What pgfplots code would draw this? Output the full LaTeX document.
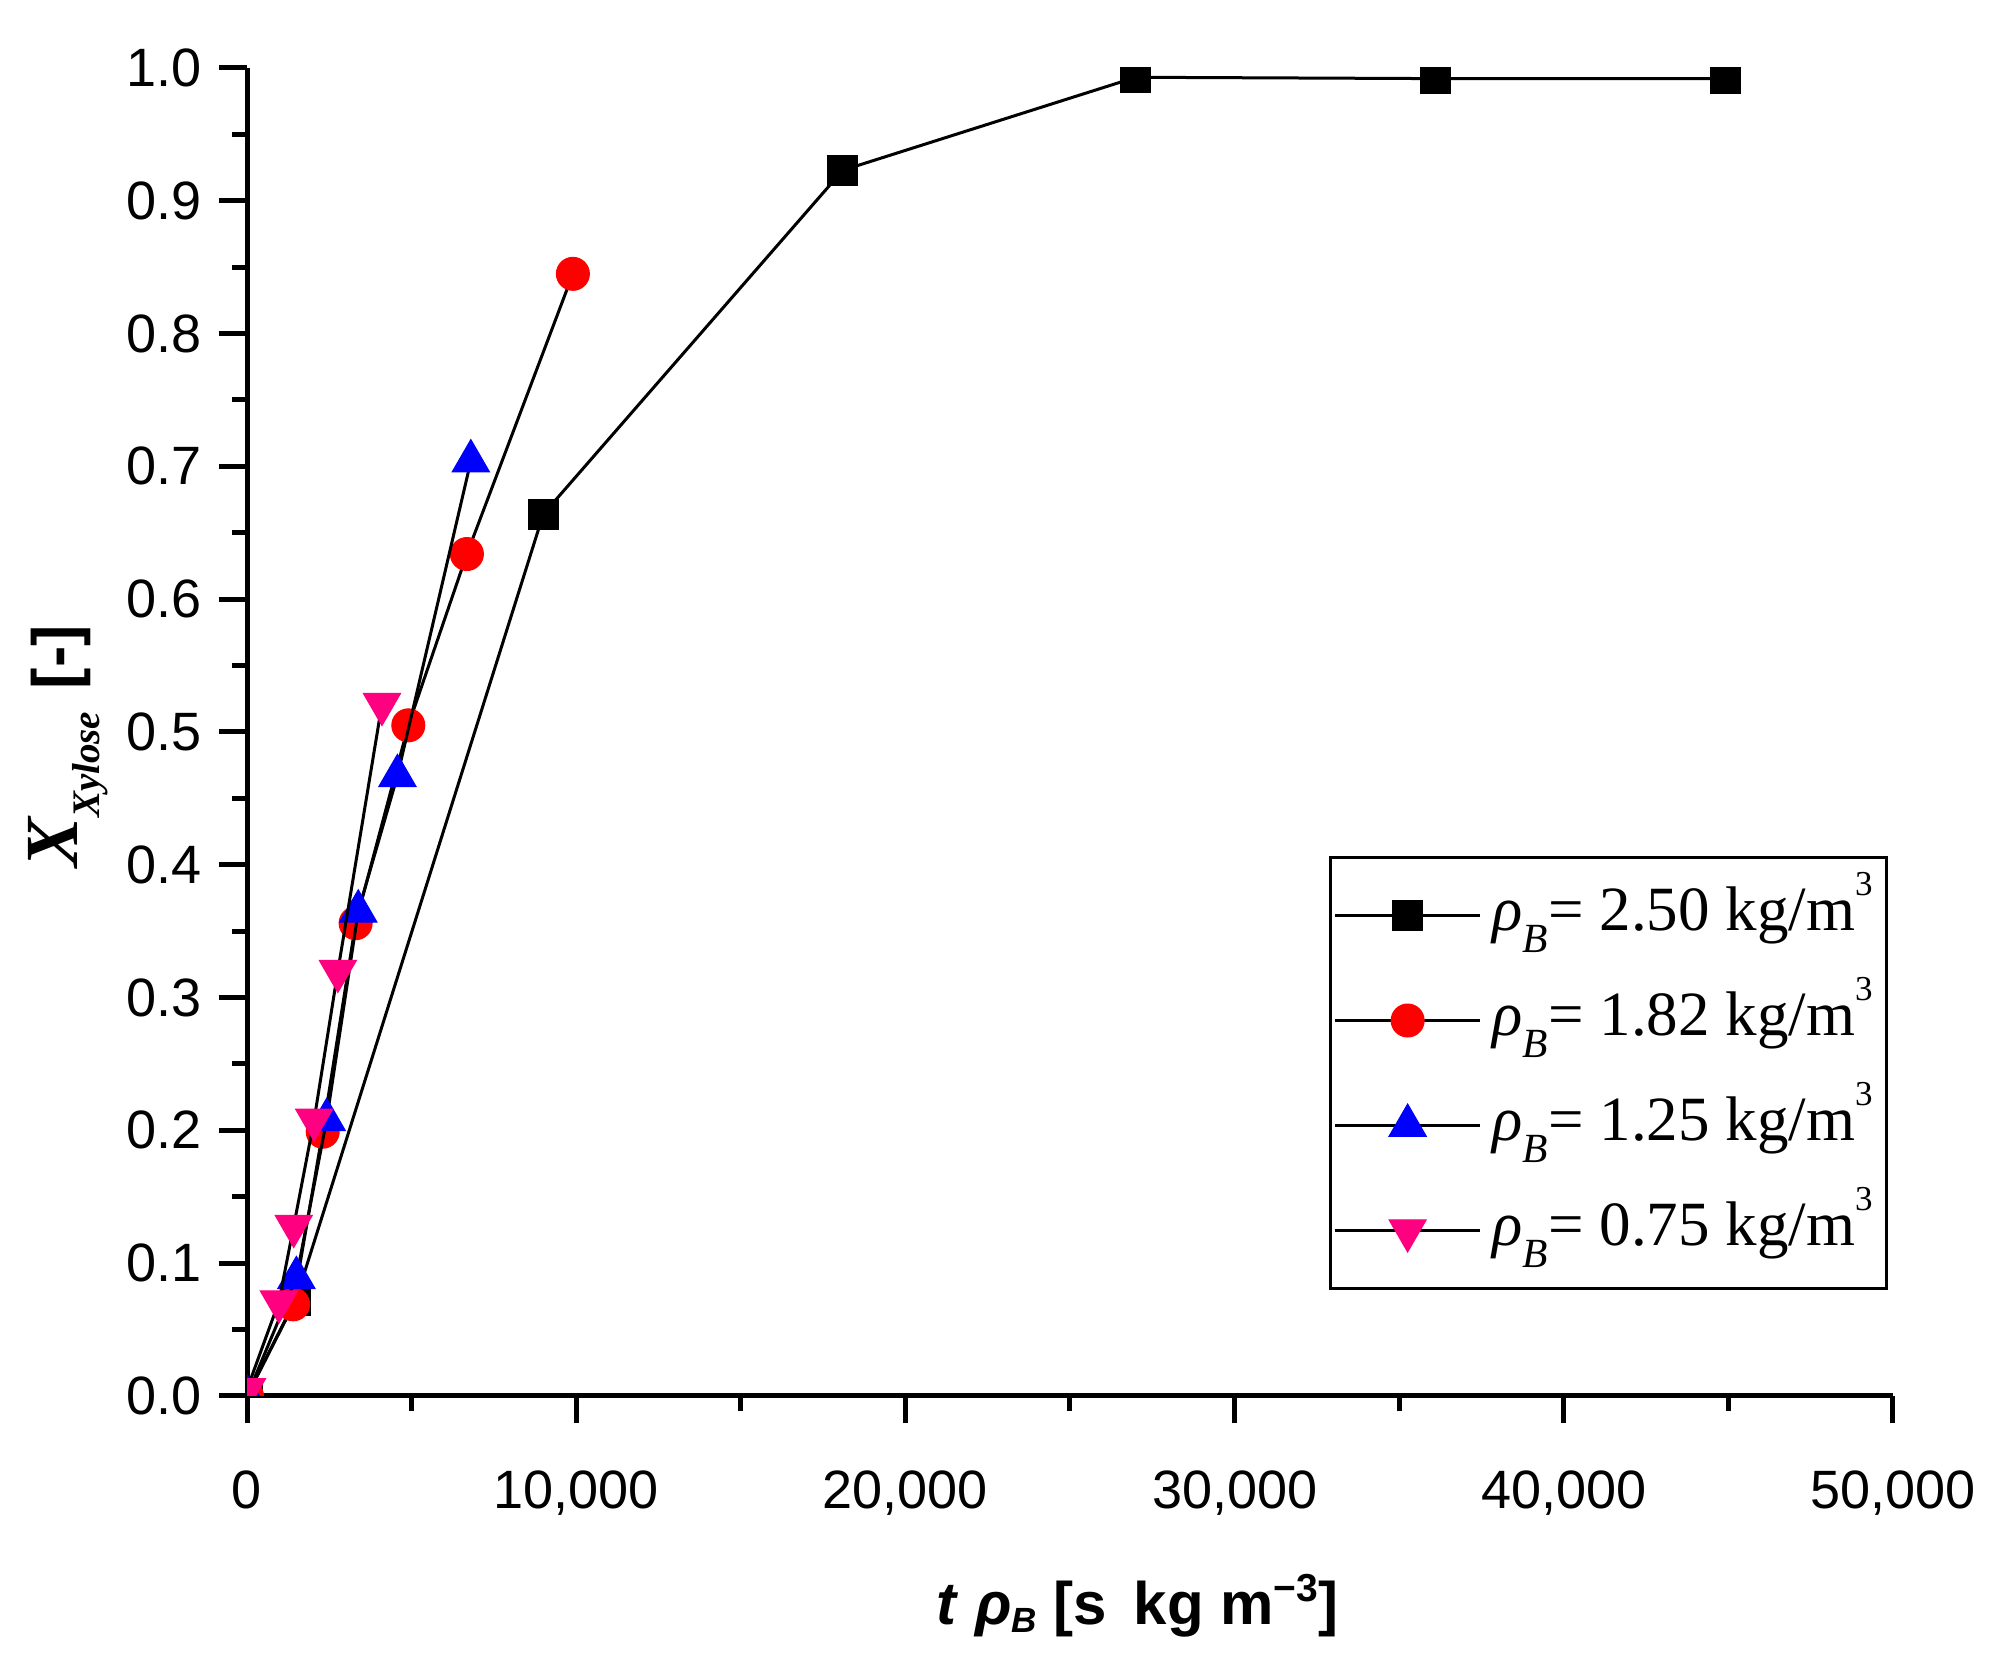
\documentclass[border=0pt]{standalone}
\usepackage{fontspec}
\setmainfont{Liberation Sans}
\newfontfamily\timesfont{Liberation Serif}
\usepackage{pgfplots}
\pgfplotsset{compat=1.18}

\definecolor{mypink}{RGB}{255,0,128}

% legend text: rho_B = value kg/m^3
\newcommand{\rhoentry}[1]{{\timesfont\fontsize{12.6}{12.6}\selectfont\textit{ρ}\raisebox{-4.3pt}{\fontsize{8.3}{8.3}\selectfont\textit{B}}= #1 kg/m\raisebox{7pt}{\fontsize{7}{7}\selectfont 3}}}

\begin{document}
\begin{tikzpicture}
\useasboundingbox (0,0) rectangle (399.6pt,334.6pt);
\begin{axis}[
    scale only axis,
    width=329.2pt, height=265.6pt,
    at={(49.4pt,55.4pt)}, anchor=south west,
    xmin=0, xmax=50000,
    ymin=0, ymax=1,
    axis x line*=bottom, axis y line*=left,
    axis line style={line width=1pt, -},
    xtick={0,10000,20000,30000,40000,50000},
    ytick={0,0.1,0.2,0.3,0.4,0.5,0.6,0.7,0.8,0.9,1.0},
    minor x tick num=1, minor y tick num=1,
    tick align=outside,
    major tick length=5.5pt, minor tick length=3pt,
    every tick/.style={line width=1pt, black},
    scaled x ticks=false,
    tick label style={font=\fontsize{10.8}{12}\selectfont, /pgf/number format/assume math mode=true},
    xticklabel style={yshift=-6pt, /pgf/number format/1000 sep={,}},
    yticklabel style={/pgf/number format/fixed, /pgf/number format/fixed zerofill, /pgf/number format/precision=1},
    xlabel={\bfseries\fontsize{12}{12}\selectfont\textit{t} \textit{ρ}\raisebox{-1.5pt}{\fontsize{7}{7}\selectfont\textit{B}} [s\hspace{0.45em}kg m\raisebox{4.6pt}{\fontsize{7.8}{7.8}\selectfont −3}]},
    xlabel style={at={(axis description cs:0.541,-0.1724)}, anchor=base},
    ylabel={{\timesfont\bfseries\itshape\fontsize{15}{15}\selectfont X\raisebox{-4.4pt}{\fontsize{7.8}{7.8}\selectfont Xylose}}\hspace{0.45em}{\bfseries\fontsize{12.8}{12.8}\selectfont [-]}},
    ylabel style={at={(axis description cs:-0.1027,0.489)}, anchor=base, rotate=0},
    clip marker paths=true,
    legend cell align=left,
    legend style={at={(axis description cs:0.997,0.0798)}, anchor=south east,
        draw=black, line width=0.6pt, inner xsep=0.6pt, inner ysep=2pt,
        row sep=1.8pt,
        nodes={inner xsep=2.2pt, inner ysep=0pt, text height=12.6pt, text depth=6.6pt}},
    legend image code/.code={\draw[mark repeat=2, mark phase=2, #1] plot coordinates {(0pt,0pt) (14.5pt,0pt) (29pt,0pt)};},
    every axis plot/.append style={line width=0.6pt},
]
\addplot[black, mark=square*, mark size=3pt, mark options={draw=black, fill=black, line width=0.2pt}] coordinates {
    (0,0) (1480,0.072) (9000,0.664) (18100,0.923) (27000,0.993) (36100,0.992) (44900,0.992)
};
\addplot[black, mark=*, mark size=3.3pt, mark options={draw=red, fill=red, line width=0.2pt}] coordinates {
    (0,0) (1400,0.069) (2300,0.199) (3300,0.356) (4900,0.505) (6680,0.634) (9900,0.845)
};
\addplot[black, mark=triangle*, mark size=4.3pt, mark options={draw=blue, fill=blue, line width=0.2pt}] coordinates {
    (0,0) (1500,0.089) (2420,0.208) (3380,0.365) (4570,0.467) (6800,0.704)
};
\addplot[black, mark=triangle*, mark size=4.3pt, mark options={draw=mypink, fill=mypink, line width=0.2pt, rotate=180}] coordinates {
    (0,0.005) (970,0.071) (1420,0.128) (2040,0.208) (2760,0.320) (4100,0.521)
};
\legend{\rhoentry{2.50}, \rhoentry{1.82}, \rhoentry{1.25}, \rhoentry{0.75}}
\end{axis}
\end{tikzpicture}
\end{document}
